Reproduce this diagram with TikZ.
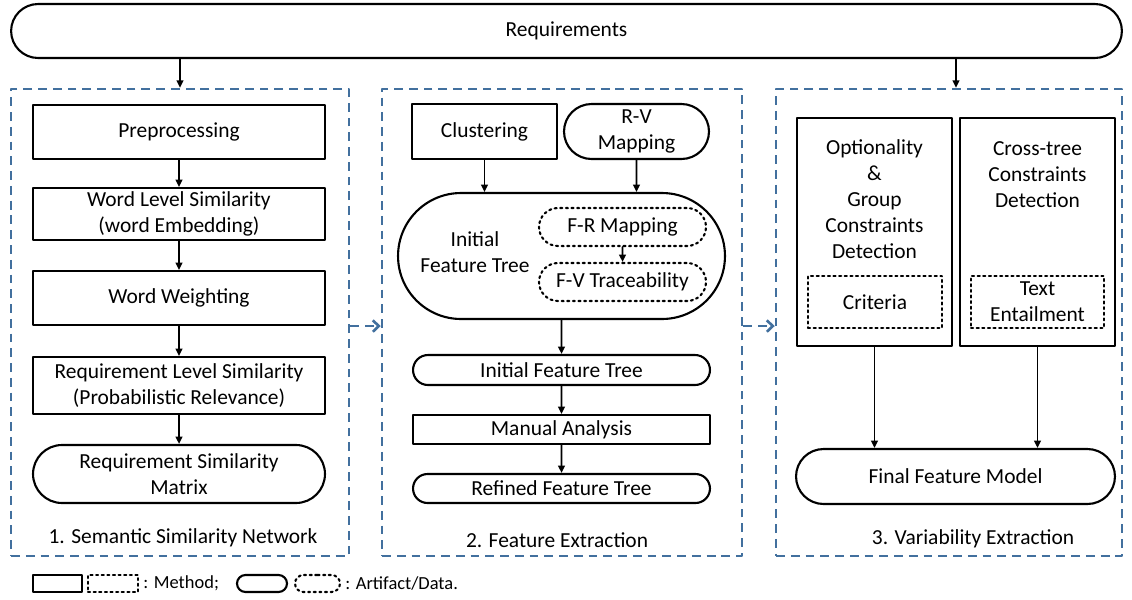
\documentclass[tikz,border=0pt]{standalone}
\usepackage{fontspec}
\setmainfont{Carlito}
\usetikzlibrary{arrows.meta,shapes.misc}
\definecolor{frameblue}{rgb}{0.26,0.44,0.62}

\begin{document}
\begin{tikzpicture}[line cap=round,line join=round,>={Triangle[length=4.2pt,width=3.8pt]},x=0.02cm,y=-0.02cm,
	font=\fontsize{12.2}{14.8}\selectfont,
	method/.style={draw,line width=1.2pt,rectangle,inner sep=0pt,align=center},
	artifact/.style={draw,line width=1.2pt,rounded rectangle,inner sep=0pt,align=center},
	inmethod/.style={draw,dotted,line width=1.2pt,rectangle,inner sep=0pt,align=center},
	inartifact/.style={draw,dotted,line width=1.2pt,rounded rectangle,inner sep=0pt,align=center},
	phase/.style={draw=frameblue,line width=1.5pt,dash pattern=on 5pt off 3.4pt,line cap=butt,inner sep=0pt},
	flow/.style={->,line width=1.1pt},
	handover/.style={-{Straight Barb[length=3.4pt,width=6.5pt]},draw=frameblue,line width=1.5pt,dash pattern=on 5pt off 3.4pt,line cap=butt}]
				\useasboundingbox (0,0) rectangle (1132,599);
				% input
				\node[artifact,minimum width=22.22cm,minimum height=1.08cm] (req) at (566.5,31) {Requirements};
				% the three phases
				\node[phase,minimum width=6.76cm,minimum height=9.34cm] (frame1) at (180,322.5) {};
				\node[phase,minimum width=7.2cm,minimum height=9.34cm] (frame2) at (562,322.5) {};
				\node[phase,minimum width=6.92cm,minimum height=9.34cm] (frame3) at (949,322.5) {};
				\draw[flow] (frame1.north |- req.south) -- (frame1.north);
				\draw[flow] ([xshift=0.14cm]frame3.north |- req.south) -- ([xshift=0.14cm]frame3.north);
				% 1. semantic similarity network
				\node[method,minimum width=5.84cm,minimum height=1.08cm] (pre) at (179,132) {Preprocessing};
				\node[method,minimum width=5.84cm,minimum height=1.04cm] (wls) at (179,214) {Word Level Similarity\\(word Embedding)};
				\node[method,minimum width=5.84cm,minimum height=1.08cm] (ww) at (179,298) {Word Weighting};
				\node[method,minimum width=5.84cm,minimum height=1.14cm] (rls) at (179,385.5) {Requirement Level Similarity\\(Probabilistic Relevance)};
				\node[artifact,minimum width=5.84cm,minimum height=1.16cm] (rsm) at (179,474) {Requirement Similarity\\Matrix};
				\draw[flow] (pre) -- (wls);
				\draw[flow] (wls) -- (ww);
				\draw[flow] (ww) -- (rls);
				\draw[flow] (rls) -- (rsm);
				\node (cap1) at (183,538) {1. Semantic Similarity Network};
				% 2. feature extraction
				\node[method,minimum width=2.9cm,minimum height=1.1cm] (clu) at (484.5,131.5) {Clustering};
				\node[artifact,minimum width=2.9cm,minimum height=1.1cm] (rv) at (636.5,131.5) {R-V\\Mapping};
				\node[artifact,minimum width=6.54cm,minimum height=2.52cm] (ift) at (561.5,256) {};
				\node[align=center] (iftlabel) at (475,252) {Initial\\Feature Tree};
				\node[inartifact,minimum width=3.34cm,minimum height=0.76cm] (frm) at (622.5,227) {F-R Mapping};
				\node[inartifact,minimum width=3.34cm,minimum height=0.76cm] (fvt) at (622.5,282) {F-V Traceability};
				\draw[flow] (clu) -- (clu |- ift.north);
				\draw[flow] (rv) -- (rv |- ift.north);
				\draw[flow] (frm) -- (fvt);
				\node[artifact,minimum width=5.94cm,minimum height=0.6cm] (ift2) at (561.5,370) {Initial Feature Tree};
				\node[method,minimum width=5.94cm,minimum height=0.58cm] (ma) at (561.5,429.5) {Manual Analysis};
				\node[artifact,minimum width=5.94cm,minimum height=0.58cm] (rft) at (561.5,488.5) {Refined Feature Tree};
				\draw[flow] (ift) -- (ift2);
				\draw[flow] (ift2) -- (ma);
				\draw[flow] (ma) -- (rft);
				\node (cap2) at (557,540) {2. Feature Extraction};
				% 3. variability extraction
				\node[method,minimum width=3.1cm,minimum height=4.56cm] (opt) at (874.5,232) {};
				\node[method,minimum width=3.1cm,minimum height=4.56cm] (ctd) at (1037.5,232) {};
				\node[anchor=north,align=center,inner sep=0pt] (optlabel) at (874.5,139) {Optionality\\\&\\Group\\Constraints\\Detection};
				\node[anchor=north,align=center,inner sep=0pt] (ctdlabel) at (1037.5,141) {Cross-tree\\Constraints\\Detection};
				\node[inmethod,minimum width=2.68cm,minimum height=1.04cm] (crit) at (875,302) {Criteria};
				\node[inmethod,minimum width=2.66cm,minimum height=1.04cm] (te) at (1037.5,302) {Text\\Entailment};
				\node[artifact,minimum width=6.38cm,minimum height=1.1cm] (ffm) at (955.5,476.5) {Final Feature Model};
				\draw[flow] (opt) -- (opt |- ffm.north);
				\draw[flow] (ctd) -- (ctd |- ffm.north);
				\node (cap3) at (973,539) {3. Variability Extraction};
				% hand-over between phases
				\draw[handover] (frame1.east |- ww.south) -- (frame2.west |- ww.south);
				\draw[handover] (frame2.east |- ww.south) -- (frame3.west |- ww.south);
				% legend
				\begin{scope}[font=\fontsize{10.5}{12}\selectfont]
				\node[method,minimum width=0.98cm,minimum height=0.34cm] (lgmethod) at (57.5,583.5) {};
				\node[inmethod,minimum width=1cm,minimum height=0.34cm] (lginmethod) at (113,583.5) {};
				\node[anchor=west,inner sep=0pt] (lgmethodtxt) at (143,583.5) {: Method;};
				\node[artifact,minimum width=1cm,minimum height=0.34cm] (lgartifact) at (262,583.5) {};
				\node[inartifact,minimum width=0.9cm,minimum height=0.34cm] (lginartifact) at (317.5,583.5) {};
				\node[anchor=west,inner sep=0pt] (lgartifacttxt) at (345,583.5) {: Artifact/Data.};
				\end{scope}
				\end{tikzpicture}
\end{document}
